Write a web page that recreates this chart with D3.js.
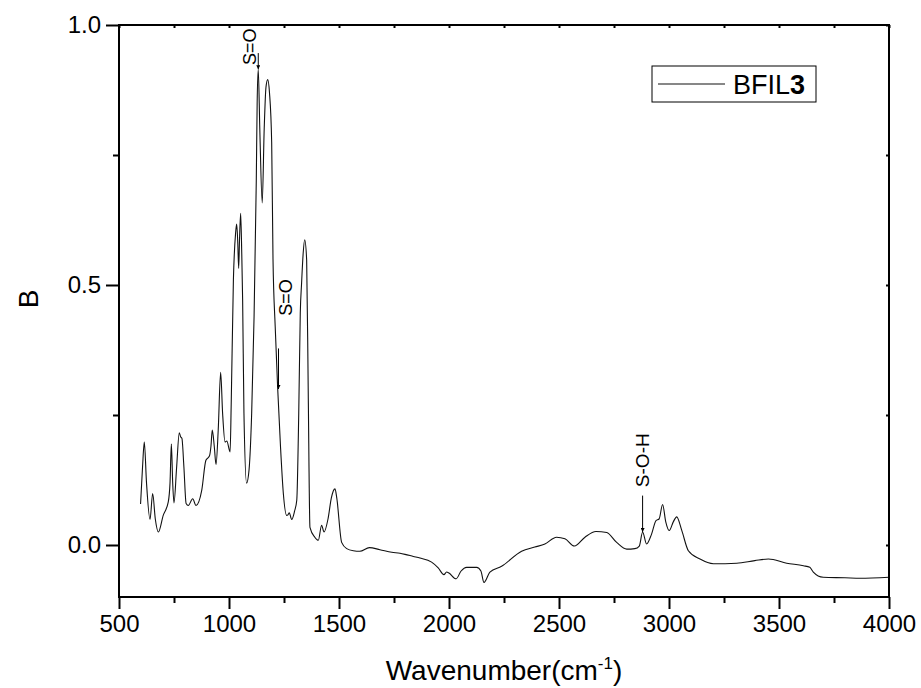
<!DOCTYPE html>
<html>
<head>
<meta charset="utf-8">
<script src="https://cdn.jsdelivr.net/npm/d3@7"></script>
<style>
  body { margin: 0; background: #fff; }
  svg { display: block; font-family: "Liberation Sans", Arial, sans-serif; }
</style>
</head>
<body>
<svg id="chart" width="921" height="688"></svg>
<script>
// IR spectrum of BFIL3: wavenumber (cm-1) and absorbance B
const wavenumber = [
  598, 607, 615, 625, 641, 653, 665, 679, 701, 724, 732, 738, 744, 750, 762, 774, 780, 786, 795, 805,
  815, 835, 850, 876, 895, 911, 918, 924, 933, 941, 951, 962, 971, 982, 990, 1005, 1010, 1020, 1030, 1035,
  1040, 1044, 1048, 1053, 1058, 1062, 1068, 1080, 1091, 1103, 1114, 1124, 1128, 1133, 1140, 1151, 1160, 1168, 1176, 1184,
  1194, 1200, 1210, 1221, 1234, 1247, 1262, 1268, 1274, 1285, 1298, 1308, 1317, 1324, 1330, 1337, 1344, 1353, 1360, 1368,
  1390, 1406, 1421, 1432, 1450, 1465, 1474, 1482, 1490, 1512, 1535, 1565, 1595, 1638, 1686, 1740, 1777, 1800, 1838,
  1868, 1921, 1951, 1977, 1989, 2000, 2032, 2055, 2080, 2126, 2145, 2159, 2186, 2239, 2330, 2390, 2436, 2489, 2527, 2570,
  2618, 2668, 2717, 2762, 2808, 2845, 2865, 2880, 2898, 2920, 2941, 2955, 2971, 2985, 3001, 3020, 3035, 3058, 3088, 3141,
  3202, 3308, 3390, 3452, 3535, 3611, 3640, 3656, 3701, 3800, 3868, 4000
];
const absorbance = [
  0.079, 0.150, 0.198, 0.120, 0.049, 0.099, 0.050, 0.025, 0.057, 0.083, 0.120, 0.194, 0.120, 0.081, 0.150, 0.216, 0.208, 0.205, 0.150, 0.080,
  0.076, 0.089, 0.076, 0.105, 0.163, 0.171, 0.190, 0.221, 0.190, 0.155, 0.221, 0.332, 0.253, 0.198, 0.200, 0.179, 0.270, 0.510, 0.600, 0.617,
  0.580, 0.532, 0.590, 0.638, 0.560, 0.470, 0.253, 0.119, 0.144, 0.253, 0.440, 0.700, 0.850, 0.915, 0.800, 0.658, 0.800, 0.880, 0.895, 0.870,
  0.774, 0.550, 0.420, 0.304, 0.190, 0.099, 0.057, 0.058, 0.062, 0.049, 0.065, 0.086, 0.253, 0.446, 0.504, 0.560, 0.587, 0.548, 0.300, 0.034,
  0.015, 0.009, 0.038, 0.025, 0.050, 0.090, 0.104, 0.108, 0.090, 0.005, -0.007, -0.011, -0.012, -0.005, -0.009, -0.014, -0.016, -0.018, -0.022,
  -0.025, -0.033, -0.044, -0.057, -0.052, -0.054, -0.065, -0.050, -0.043, -0.043, -0.050, -0.072, -0.052, -0.041, -0.012, -0.004, 0.002, 0.015, 0.012, -0.002,
  0.015, 0.026, 0.024, 0.005, -0.008, -0.007, -0.002, 0.025, 0.002, 0.020, 0.047, 0.050, 0.078, 0.045, 0.028, 0.045, 0.054, 0.028, -0.011, -0.027,
  -0.036, -0.035, -0.030, -0.027, -0.035, -0.040, -0.043, -0.052, -0.062, -0.063, -0.064, -0.062
];

const xTickValues = [500, 1000, 1500, 2000, 2500, 3000, 3500, 4000];
const xMinorValues = [750, 1250, 1750, 2250, 2750, 3250, 3750];
const yTickValues = [0.0, 0.5, 1.0];
const yMinorValues = [0.25, 0.75];

// band assignments: label, wavenumber, absorbance at the arrow tip, arrow tail
const bandLabels = ["S=O", "S=O", "S-O-H"];
const bandWavenumber = [1133, 1225, 2880];
const bandTip = [0.915, 0.300, 0.025];
const bandTail = [0.946, 0.378, 0.095];
const bandTextCenter = [0.958, 0.476, 0.163];
const bandTextOffset = [-9, 7, 0];

const legendLabel = "BFIL";
const legendSuffix = "3";

const svg = d3.select("#chart");
const margin = { left: 119, right: 32, top: 25, bottom: 91 };
const W = 921, H = 688;

const x = d3.scaleLinear().domain([500, 4000]).range([margin.left, W - margin.right]);
const y = d3.scaleLinear().domain([-0.1, 1.0]).range([H - margin.bottom, margin.top]);

const x0 = x.range()[0], x1 = x.range()[1];
const y0 = y.range()[0], y1 = y.range()[1];

// spectrum line
const line = d3.line()
  .x((d, i) => x(wavenumber[i]))
  .y((d, i) => y(absorbance[i]))
  .curve(d3.curveMonotoneX);

svg.append("path")
  .datum(absorbance)
  .attr("d", line)
  .attr("fill", "none")
  .attr("stroke", "#111")
  .attr("stroke-width", 1.1);

// axes
const fmt = d3.format(".1f");
function styleAxis(g) {
  g.select(".domain").remove();
  g.selectAll("line").attr("stroke", "#000").attr("stroke-width", 2);
  g.selectAll("text").attr("font-size", 24).attr("fill", "#000")
    .attr("font-family", "'Liberation Sans', Arial, sans-serif");
}

svg.append("g").attr("transform", `translate(0,${y0})`)
  .call(d3.axisBottom(x).tickValues(xTickValues).tickFormat(d3.format("d")).tickSize(12).tickPadding(6))
  .call(styleAxis);
svg.append("g").attr("transform", `translate(0,${y0})`)
  .call(d3.axisBottom(x).tickValues(xMinorValues).tickFormat("").tickSize(6))
  .call(styleAxis);

svg.append("g").attr("transform", `translate(${x0},0)`)
  .call(d3.axisLeft(y).tickValues(yTickValues).tickFormat(fmt).tickSize(13).tickPadding(5))
  .call(styleAxis);
svg.append("g").attr("transform", `translate(${x0},0)`)
  .call(d3.axisLeft(y).tickValues(yMinorValues).tickFormat("").tickSize(6))
  .call(styleAxis);

// inward ticks on top and right
svg.append("g").attr("transform", `translate(0,${y1})`)
  .call(d3.axisBottom(x).tickValues(xTickValues.concat(xMinorValues)).tickFormat("").tickSize(3))
  .call(styleAxis);
svg.append("g").attr("transform", `translate(${x1},0)`)
  .call(d3.axisLeft(y).tickValues(yTickValues.concat(yMinorValues)).tickFormat("").tickSize(3))
  .call(styleAxis);

// frame
svg.append("rect")
  .attr("x", x0).attr("y", y1)
  .attr("width", x1 - x0).attr("height", y0 - y1)
  .attr("fill", "none").attr("stroke", "#000").attr("stroke-width", 2);

// axis titles
const xt = svg.append("text")
  .attr("x", (x0 + x1) / 2).attr("y", 680)
  .attr("text-anchor", "middle")
  .attr("font-size", 28).attr("fill", "#000");
xt.append("tspan").text("Wavenumber(cm");
xt.append("tspan").attr("dy", -11).attr("font-size", 17).text("-1");
xt.append("tspan").attr("dy", 11).text(")");

svg.append("text")
  .attr("transform", `translate(38,${(y0 + y1) / 2 - 12}) rotate(-90)`)
  .attr("text-anchor", "middle")
  .attr("font-size", 28).attr("fill", "#000")
  .text("B");

// band annotations with arrows
svg.append("defs").append("marker")
  .attr("id", "head")
  .attr("viewBox", "0 0 10 10")
  .attr("refX", 10).attr("refY", 5)
  .attr("markerWidth", 4).attr("markerHeight", 4)
  .attr("orient", "auto")
  .append("path").attr("d", "M0,0 L10,5 L0,10 z").attr("fill", "#000");

bandLabels.forEach((lab, i) => {
  const px = x(bandWavenumber[i]);
  svg.append("line")
    .attr("x1", px).attr("x2", px)
    .attr("y1", y(bandTail[i])).attr("y2", y(bandTip[i]))
    .attr("stroke", "#000").attr("stroke-width", 1)
    .attr("marker-end", "url(#head)");
  svg.append("text")
    .attr("transform", `translate(${px + bandTextOffset[i]},${y(bandTextCenter[i])}) rotate(-90)`)
    .attr("text-anchor", "middle")
    .attr("dy", "0.35em")
    .attr("font-size", i === 2 ? 19 : 18)
    .attr("fill", "#000")
    .text(lab);
});

// legend
const lg = svg.append("g");
lg.append("rect")
  .attr("x", 652).attr("y", 66).attr("width", 164).attr("height", 36)
  .attr("fill", "#fff").attr("stroke", "#000").attr("stroke-width", 1);
lg.append("line")
  .attr("x1", 658).attr("x2", 725).attr("y1", 84).attr("y2", 84)
  .attr("stroke", "#111").attr("stroke-width", 1.1);
const lt = lg.append("text")
  .attr("x", 733).attr("y", 94)
  .attr("font-size", 27).attr("fill", "#000");
lt.append("tspan").text(legendLabel);
lt.append("tspan").attr("font-weight", "bold").text(legendSuffix);
</script>
</body>
</html>
